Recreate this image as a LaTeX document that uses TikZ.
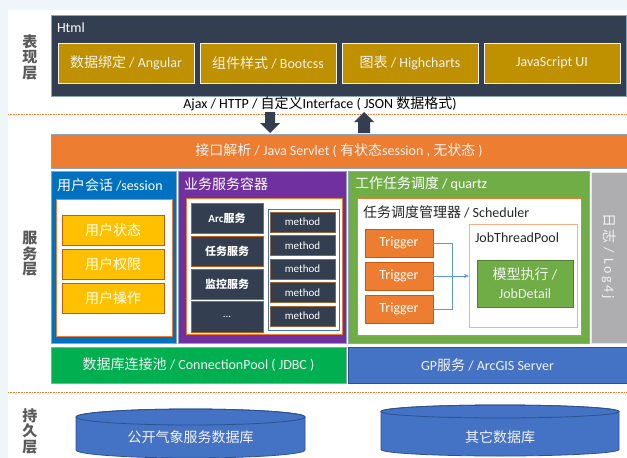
\documentclass[tikz,border=0pt]{standalone}
\usepackage{fontspec}
\setmainfont{Carlito}
\newfontfamily\zhfont{Noto Sans CJK SC}
\newfontfamily\spacedfont[LetterSpace=18]{Carlito}
\newfontfamily\zhspacedfont[LetterSpace=18]{Noto Sans CJK SC}
\newcommand\zh[1]{{\zhfont #1}}
\usetikzlibrary{arrows.meta}
\definecolor{navy}{HTML}{333F50}
\definecolor{gold}{HTML}{BF9000}
\definecolor{orng}{HTML}{ED7D31}
\definecolor{dorng}{HTML}{C55A11}
\definecolor{lorng}{HTML}{F4B183}
\definecolor{ublue}{HTML}{0070C0}
\definecolor{purp}{HTML}{7030A0}
\definecolor{qgreen}{HTML}{70AD47}
\definecolor{dgreen}{HTML}{507E32}
\definecolor{lgrey}{HTML}{AEAEB1}
\definecolor{dbgreen}{HTML}{00B050}
\definecolor{gpblue}{HTML}{4472C4}
\definecolor{dblue}{HTML}{2F528F}
\definecolor{yel}{HTML}{FFC000}
\definecolor{bgblue}{HTML}{EEF6FC}
\definecolor{lbl}{HTML}{595959}
\definecolor{txtl}{HTML}{F2F2F2}
\definecolor{edge}{HTML}{8EA2B8}
\definecolor{conn}{HTML}{5B9BD5}
\begin{document}
\begin{tikzpicture}[x=1pt,y=-1pt,
  every node/.style={inner sep=0pt,outer sep=0pt},
  font=\fontsize{14}{16}\selectfont,
  wh/.style 2 args={minimum width=#1pt,minimum height=#2pt,anchor=north west},
  bigbox/.style={draw=edge,line width=0.8pt},
  goldbox/.style={fill=gold,draw=white!90!gray,line width=1pt,text=txtl},
  yelbox/.style={fill=yel,draw=dorng,line width=0.8pt,text=white!95!yellow},
  darkbox/.style={fill=navy,draw=dorng,line width=0.9pt,text=white,font=\fontsize{11}{13}\selectfont},
  innerbox/.style={fill=white,draw=orng,line width=0.8pt},
  trigbox/.style={fill=orng,draw=dorng,line width=0.8pt,text=white},
  titletext/.style={anchor=west,text=white},
  darktext/.style={anchor=west,text=black!85},
  layerlbl/.style={text=lbl,align=center,font=\zhfont\bfseries\fontsize{15}{15.5}\selectfont},
  divider/.style={orng,line width=0.8pt,dash pattern=on 0.8pt off 0.8pt},
  connline/.style={conn,line width=0.6pt}
]
\useasboundingbox (0,0) rectangle (627,458);
\fill[bgblue] (0,0) rectangle (627,458);
\fill[white] (8,10) rectangle (627,458);

% layer labels
\node[layerlbl] (lay1) at (30,57) {表\\现\\层};
\node[layerlbl] (lay2) at (30,254) {服\\务\\层};
\node[layerlbl] (lay3) at (30,431) {持\\久\\层};

% presentation layer
\node[fill=navy,bigbox,wh={575}{81}] (html) at (51,15) {};
\node[titletext] (htmlt) at (57,28) {Html};
\node[goldbox,wh={136}{40}] (g1) at (58,43) {\zh{数据绑定} / Angular};
\node[goldbox,wh={136}{40}] (g2) at (200,43) {\zh{组件样式} / Bootcss};
\node[goldbox,wh={136}{40}] (g3) at (342,43) {\zh{图表} / Highcharts};
\node[goldbox,wh={136}{40}] (g4) at (484,43) {JavaScript UI};

\node (ajax) at (320,104) {Ajax / HTTP / \zh{自定义}Interface ( JSON \zh{数据格式})};
\draw[divider] (8,114) -- (627,114);

% block arrows
\fill[navy] (265,112) -- (275,112) -- (275,123) -- (280,123) -- (270,133) -- (260,123) -- (265,123) -- cycle;
\fill[navy] (364,112) -- (374,122) -- (370,122) -- (370,133) -- (358,133) -- (358,122) -- (354,122) -- cycle;

% servlet bar
\node[fill=orng,bigbox,wh={576}{34},text=txtl] (servlet) at (51,134) {\zh{接口解析} / Java Servlet ( \zh{有状态}session , \zh{无状态} )};

% session
\node[fill=ublue,bigbox,wh={125}{172}] (sess) at (51,171) {};
\node[titletext] (sesst) at (57,185) {\zh{用户会话} /session};
\node[innerbox,wh={116}{137}] (sessin) at (56,199) {};
\node[yelbox,wh={102}{30}] (u1) at (62,215) {\zh{用户状态}};
\node[yelbox,wh={102}{30}] (u2) at (62,249) {\zh{用户权限}};
\node[yelbox,wh={102}{30}] (u3) at (62,283) {\zh{用户操作}};

% business container
\node[fill=purp,bigbox,wh={168}{172}] (biz) at (178,171) {};
\node[titletext] (bizt) at (184,184) {\zh{业务服务容器}};
\node[innerbox,wh={156}{136}] (bizin) at (186,198) {};
\node[darkbox,wh={72}{30}] (d1) at (191,203) {\textbf{Arc}\zh{\bfseries 服务}};
\node[darkbox,wh={72}{30}] (d2) at (191,236) {\zh{\bfseries 任务服务}};
\node[darkbox,wh={72}{30}] (d3) at (191,269) {\zh{\bfseries 监控服务}};
\node[darkbox,wh={72}{31}] (d4) at (191,301) {...};
\node[fill=white,draw=gpblue,line width=0.8pt,wh={71}{121}] (meth) at (268,209) {};
\node[darkbox,draw=brown!80!black,wh={65}{20}] (m1) at (270,212) {method};
\node[darkbox,draw=brown!80!black,wh={65}{20}] (m2) at (270,235.5) {method};
\node[darkbox,draw=brown!80!black,wh={65}{20}] (m3) at (270,259) {method};
\node[darkbox,draw=brown!80!black,wh={65}{20}] (m4) at (270,282.5) {method};
\node[darkbox,draw=brown!80!black,wh={65}{20}] (m5) at (270,306) {method};

% quartz
\node[fill=qgreen,bigbox,wh={241}{172}] (quartz) at (348,171) {};
\node[titletext] (quartzt) at (355,184) {\zh{工作任务调度} / quartz};
\node[innerbox,wh={224}{137}] (sched) at (357,198) {};
\node[darktext] (schedt) at (363,212) {\zh{任务调度管理器} / Scheduler};
\node[trigbox,wh={68}{28}] (t1) at (365,229) {Trigger};
\node[trigbox,wh={68}{28}] (t2) at (365,262) {Trigger};
\node[trigbox,wh={68}{28}] (t3) at (365,295) {Trigger};
\node[fill=white,draw=lorng,line width=0.8pt,wh={108}{103}] (pool) at (469,224) {};
\node[darktext] (poolt) at (475,238) {JobThreadPool};
\node[fill=qgreen,draw=dgreen,line width=0.8pt,wh={96}{47},text=txtl,align=center,font=\fontsize{14}{19}\selectfont] (job) at (477,260) {\zh{模型执行} /\\JobDetail};
\coordinate (jn) at (452,276);
\draw[connline] (t1.east) -| (jn);
\draw[connline] (t3.east) -| (jn);
\draw[connline,-{Stealth[length=5pt,width=4pt]}] (t2.east) -- (t2.east -| pool.west);

% log
\node[fill=lgrey,draw=white!80!gray,line width=0.8pt,wh={36}{171}] (log) at (591,172) {};
\node[rotate=-90,text=txtl] (logt) at (609,256) {{\zhspacedfont 日志} {\spacedfont / Log4j}};

% pools
\node[fill=dbgreen,bigbox,wh={295}{36},text=txtl] (dbpool) at (51,347) {\zh{数据库连接池} / ConnectionPool ( JDBC )};
\node[fill=gpblue,draw=dblue,line width=0.8pt,wh={279}{36},text=txtl] (gp) at (348,347) {GP\zh{服务} / ArcGIS Server};

\draw[divider] (8,392) -- (627,392);

% cylinders
\filldraw[fill=gpblue,draw=dblue,line width=0.8pt] (76,417) -- (76,450) arc[start angle=180,end angle=360,x radius=114.5pt,y radius=8pt] -- (305,417) arc[start angle=0,end angle=180,x radius=114.5pt,y radius=8pt] -- cycle;
\draw[dblue,line width=0.8pt] (190.5,417) ellipse[x radius=114.5pt,y radius=8pt];
\node[text=txtl] (db1) at (190.5,437) {\zh{公开气象服务数据库}};

\filldraw[fill=gpblue,draw=dblue,line width=0.8pt] (381,411.5) -- (381,449.5) arc[start angle=180,end angle=360,x radius=119pt,y radius=6.5pt] -- (619,411.5) arc[start angle=0,end angle=180,x radius=119pt,y radius=6.5pt] -- cycle;
\draw[dblue,line width=0.8pt] (500,411.5) ellipse[x radius=119pt,y radius=6.5pt];
\node[text=txtl] (db2) at (500,437) {\zh{其它数据库}};
\end{tikzpicture}
\end{document}
